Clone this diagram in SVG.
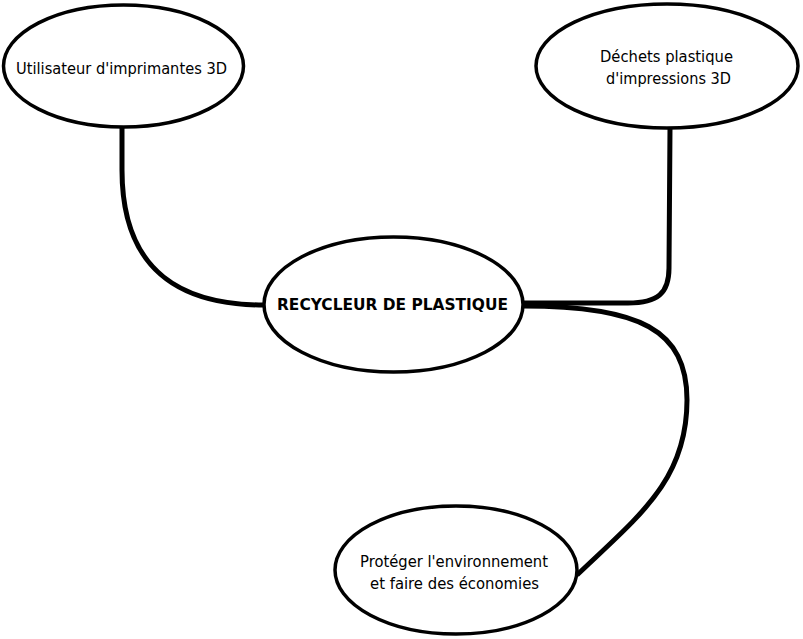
<svg xmlns="http://www.w3.org/2000/svg" width="803" height="639" viewBox="0 0 803 639">
<style>
.n{fill:#fff;stroke:#000;stroke-width:3.5}
.t{font-family:"DejaVu Sans",Verdana,sans-serif;font-size:15px;fill:#000}
.b{font-weight:bold}
.c{fill:none;stroke:#000;stroke-width:5;stroke-linecap:butt}
</style>
<rect width="803" height="639" fill="#fff"/>
<g id="connectors">
<path class="c" d="M122,128 L122,170 C122,275 185,305 264,305"/>
<path class="c" d="M523,303 L628,303 C658,303 669,293 669,268 L670,128"/>
<path class="c" d="M523,306 C640,306 687,330 687,400 C687,480 640,515 577,575"/>
</g>
<g id="n1">
<ellipse class="n" cx="123.5" cy="66" rx="120" ry="61"/>
<text class="t" x="16" y="74" textLength="211" lengthAdjust="spacingAndGlyphs">Utilisateur d'imprimantes 3D</text>
</g>
<g id="n2">
<ellipse class="n" cx="667" cy="66" rx="131" ry="62"/>
<text class="t" x="600" y="62" textLength="133" lengthAdjust="spacingAndGlyphs">Déchets plastique</text>
<text class="t" x="606" y="84" textLength="125" lengthAdjust="spacingAndGlyphs">d'impressions 3D</text>
</g>
<g id="n3">
<ellipse class="n" cx="393.5" cy="304.5" rx="129.5" ry="67.5"/>
<text class="t b" x="277" y="310" textLength="231" lengthAdjust="spacingAndGlyphs">RECYCLEUR DE PLASTIQUE</text>
</g>
<g id="n4">
<ellipse class="n" cx="456" cy="570" rx="121" ry="64"/>
<text class="t" x="360" y="567" textLength="188" lengthAdjust="spacingAndGlyphs">Protéger l'environnement</text>
<text class="t" x="370" y="589" textLength="169" lengthAdjust="spacingAndGlyphs">et faire des économies</text>
</g>
</svg>
